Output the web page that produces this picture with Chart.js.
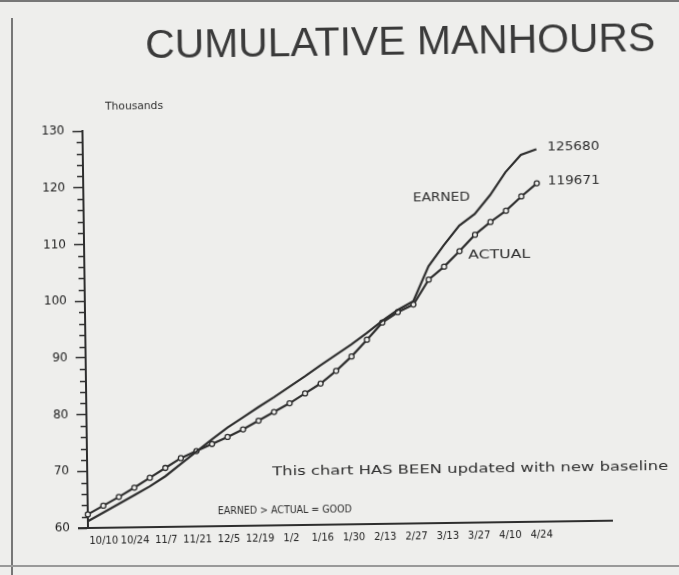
<!DOCTYPE html>
<html>
<head>
<meta charset="utf-8">
<title>Cumulative Manhours</title>
<script src="https://cdn.jsdelivr.net/npm/chart.js@4.4.0/dist/chart.umd.min.js"></script>
<style>
  html, body { margin: 0; padding: 0; }
  body { width: 679px; height: 575px; overflow: hidden; position: relative; background: #eeeeec; }
  /* the sheet sits a little skewed on the page */
  #chart { position: absolute; left: 0; top: 0; transform: rotate(-0.8deg); transform-origin: 88px 528px; }
  .edge { position: absolute; background: #777; }
  .edge.top { left: 0; top: 0; width: 679px; height: 2px; }
  .edge.left { left: 11px; top: 18px; width: 2px; height: 557px; background: #777; }
  .edge.bottom { left: 0; top: 565px; width: 679px; height: 2px; background: #999; }
</style>
</head>
<body>
<canvas id="chart" width="679" height="575"></canvas>
<div class="edge top"></div>
<div class="edge left"></div>
<div class="edge bottom"></div>
<script>
// week offsets from 10/10 (one point per week, 10/3 .. 4/24)
const weeks = [-1, 0, 1, 2, 3, 4, 5, 6, 7, 8, 9, 10, 11, 12, 13, 14,
               15, 16, 17, 18, 19, 20, 21, 22, 23, 24, 25, 26, 27, 28];

// cumulative manhours, thousands
const earned = [61.2, 62.7, 64.2, 65.7, 67.2, 68.95, 71.1, 73.2, 75.3, 77.35,
                79.1, 80.9, 82.6, 84.4, 86.2, 88.1, 89.9, 91.7, 93.7, 95.8,
                97.7, 99.2, 105.3, 109.0, 112.4, 114.4, 117.7, 121.7, 124.7, 125.68];
const actual = [62.4, 63.9, 65.4, 67.0, 68.7, 70.4, 72.1, 73.3, 74.5, 75.7,
                77.0, 78.5, 80.0, 81.5, 83.2, 84.9, 87.1, 89.6, 92.5, 95.5,
                97.3, 98.6, 102.95, 105.2, 107.9, 110.75, 112.95, 114.9, 117.4, 119.671];

// every other week gets a date label
const tickLabels = ['10/10', '10/24', '11/7', '11/21', '12/5', '12/19', '1/2', '1/16',
                    '1/30', '2/13', '2/27', '3/13', '3/27', '4/10', '4/24'];

const ink = '#2e2e2e';
const paper = '#eeeeec';
const smallFont = '"DejaVu Sans", sans-serif';

// draw text squeezed or stretched to a given width
function wideText(ctx, text, x, y, width, align) {
    const w = ctx.measureText(text).width;
    ctx.save();
    ctx.translate(x, y);
    ctx.scale(width / w, 1);
    ctx.textAlign = align || 'left';
    ctx.fillText(text, 0, 0);
    ctx.restore();
}

const notes = {
    id: 'notes',
    afterDraw(chart) {
        const { ctx, chartArea, scales } = chart;
        const y = scales.y;
        ctx.save();

        // minor ticks on the value axis, every 2 thousand
        ctx.strokeStyle = ink;
        ctx.lineWidth = 1.5;
        for (let v = 62; v < 130; v += 2) {
            if (v % 10 === 0) continue;
            const py = Math.round(y.getPixelForValue(v)) + 0.5;
            ctx.beginPath();
            ctx.moveTo(chartArea.left - 6, py);
            ctx.lineTo(chartArea.left, py);
            ctx.stroke();
        }
        // the date axis runs a little past the value axis
        ctx.lineWidth = 2;
        ctx.beginPath();
        ctx.moveTo(chartArea.left - 10, chartArea.bottom);
        ctx.lineTo(chartArea.left, chartArea.bottom);
        ctx.stroke();

        ctx.fillStyle = '#3a3a3a';
        ctx.textBaseline = 'middle';
        ctx.font = '41px "Liberation Sans", Arial, sans-serif';
        wideText(ctx, 'CUMULATIVE MANHOURS', 407, 48, 510, 'center');

        ctx.fillStyle = ink;
        ctx.font = '10px ' + smallFont;
        wideText(ctx, 'Thousands', 111, 107, 58);

        ctx.font = '12px ' + smallFont;
        wideText(ctx, 'EARNED', 446, 203, 57, 'center');
        wideText(ctx, 'ACTUAL', 503, 261, 62, 'center');

        // closing values next to the last point of each line
        [0, 1].forEach(i => {
            const pts = chart.getDatasetMeta(i).data;
            const last = pts[pts.length - 1];
            const vals = chart.data.datasets[i].data;
            const txt = String(Math.round(vals[vals.length - 1].y * 1000));
            wideText(ctx, txt, last.x + 11, last.y - 2, 52);
        });

        ctx.font = '12px ' + smallFont;
        wideText(ctx, 'This chart HAS BEEN updated with new baseline', 273, 475, 396);
        ctx.font = '11px ' + smallFont;
        wideText(ctx, 'EARNED > ACTUAL = GOOD', 218, 513, 134);

        ctx.restore();
    }
};

new Chart(document.getElementById('chart'), {
    type: 'line',
    data: {
        datasets: [
            {
                label: 'EARNED',
                data: weeks.map((w, i) => ({ x: w, y: earned[i] })),
                borderColor: ink,
                borderWidth: 2.2,
                pointRadius: 0,
                tension: 0,
                clip: false
            },
            {
                label: 'ACTUAL',
                data: weeks.map((w, i) => ({ x: w, y: actual[i] })),
                borderColor: ink,
                borderWidth: 2.2,
                pointRadius: 2.5,
                pointBorderWidth: 1.3,
                pointBorderColor: ink,
                pointBackgroundColor: paper,
                tension: 0,
                clip: false
            }
        ]
    },
    options: {
        responsive: false,
        animation: false,
        devicePixelRatio: 1,
        layout: { padding: { left: 40, right: 67, top: 131, bottom: 22 } },
        plugins: {
            legend: { display: false },
            tooltip: { enabled: false },
            title: { display: false }
        },
        scales: {
            x: {
                type: 'linear',
                min: -1,
                max: 32.5,
                afterFit: s => { s.height = 25; },
                afterBuildTicks: s => { s.ticks = tickLabels.map((t, i) => ({ value: i * 2 })); },
                grid: { display: true, drawOnChartArea: false, drawTicks: false },
                border: { display: true, color: ink, width: 2 },
                ticks: {
                    autoSkip: false,
                    maxRotation: 0,
                    padding: 7,
                    color: '#222',
                    font: { family: smallFont, size: 10 },
                    callback: (value, index) => tickLabels[index]
                }
            },
            y: {
                min: 60,
                max: 130,
                afterFit: s => { s.width = 48; },
                grid: { drawOnChartArea: false, tickLength: 10, tickColor: ink, tickWidth: 1.5 },
                border: { display: true, color: ink, width: 2 },
                ticks: {
                    stepSize: 10,
                    padding: 8,
                    color: '#222',
                    font: { family: smallFont, size: 12 }
                }
            }
        }
    },
    plugins: [notes]
});
</script>
</body>
</html>
